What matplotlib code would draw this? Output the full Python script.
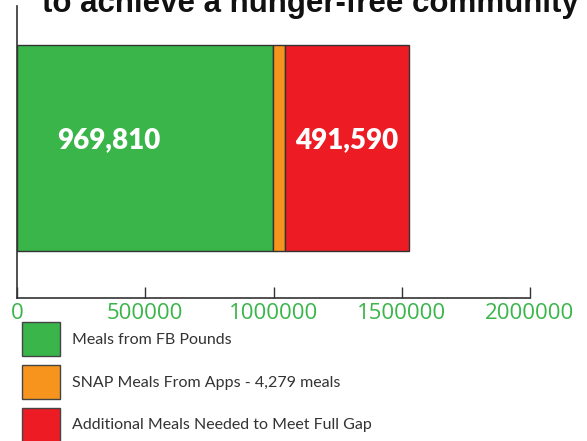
import matplotlib.pyplot as plt
from matplotlib.patches import Patch

# values
categories = ['Meals from FB Pounds',
              'SNAP Meals From Apps - 4,279 meals',
              'Additional Meals Needed to Meet Full Gap']
values = [997000, 47000, 483000]
bar_labels = ['969,810', '', '491,590']
label_pos = [0.36, 0.5, 0.5]   # fraction along each segment
colors = ['#39b54a', '#f7941d', '#ed1c24']
xticks = [0, 500000, 1000000, 1500000, 2000000]

fig = plt.figure(figsize=(5.87, 4.41), dpi=100)
ax = fig.add_axes([17 / 587, 1 - 297.5 / 441, 513 / 587, 291.5 / 441])

left = 0
for v, c, lab, f in zip(values, colors, bar_labels, label_pos):
    ax.barh(0.513, v, left=left, height=0.706, color=c, edgecolor='#333333', linewidth=1)
    if lab:
        ax.text(left + v * f, 0.54, lab, color='white', fontsize=20, fontweight='heavy',
                family='Lato', ha='center', va='center')
    left += v

ax.set_xlim(0, 2000000)
ax.set_ylim(0, 1)
ax.set_xticks(xticks)
ax.set_xticklabels([str(t) for t in xticks])
ax.set_yticks([])
ax.tick_params(axis='x', direction='in', length=8, width=1, color='#333333',
               labelcolor='#39b54a', labelsize=16, pad=4)
for lbl in ax.get_xticklabels():
    lbl.set_family('Open Sans')
for s in ['top', 'right']:
    ax.spines[s].set_visible(False)
for s in ['left', 'bottom']:
    ax.spines[s].set_color('#333333')
    ax.spines[s].set_linewidth(1.2)

# second line of the title, cut at the top edge as in the source image
fig.text(42 / 587, 1 - 4 / 441, 'to achieve a hunger-free community', fontsize=22.5,
         fontweight='bold', family='Liberation Sans', color='#111111', ha='left', va='center')

handles = [Patch(facecolor=c, edgecolor='#444444', linewidth=1) for c in colors]
fig.legend(handles, categories, loc='upper left', bbox_to_anchor=(22 / 587, 1 - 322 / 441),
           frameon=False, borderpad=0, borderaxespad=0,
           handlelength=2.4, handleheight=2.9, labelspacing=0.55, handletextpad=0.75,
           labelcolor='#333333', prop={'family': 'Lato', 'size': 11.5})

fig.savefig('out.png', dpi=100)
